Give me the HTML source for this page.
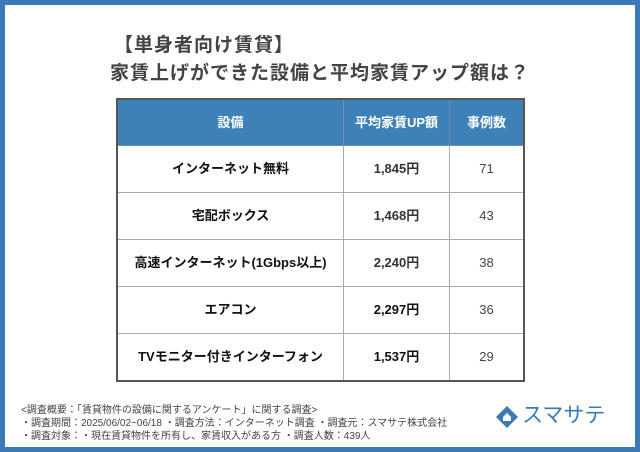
<!DOCTYPE html>
<html><head><meta charset="utf-8"><style>
body{margin:0;width:640px;height:452px;overflow:hidden;font-family:"Liberation Sans","Noto Sans CJK JP",sans-serif;}
.frame{position:absolute;left:0;top:0;width:630px;height:442px;border:5px solid #3a7ab5;background:#fff;}
.t{position:absolute;color:#444;font-weight:bold;font-size:19px;white-space:nowrap;letter-spacing:1px;line-height:22px}
table{position:absolute;left:116px;top:98px;width:409px;border-collapse:collapse;border:2px solid #555;}
td,th{border:1px solid #aaa;text-align:center;vertical-align:middle;height:46px;padding:0;font-size:13px;line-height:16px;font-weight:bold;color:#111}
td span,th span{display:inline-block;vertical-align:middle}
th{background:#3e80b8;color:#fff;border-color:#6a8fb0;height:45px}
td.n{color:#333}
td.c{font-weight:normal;color:#444}
.f{position:absolute;left:21px;font-size:10px;color:#444;white-space:nowrap}
</style></head><body>
<div class="frame"></div>
<div class="t" style="left:114px;top:35px">【単身者向け賃貸】</div>
<div class="t" style="left:110px;top:63px">家賃上げができた設備と平均家賃アップ額は？</div>
<table>
<tr><th style="width:225px">設備</th><th style="width:105px">平均家賃UP額</th><th>事例数</th></tr>
<tr><td>インターネット無料</td><td class="n">1,845円</td><td class="c">71</td></tr>
<tr><td>宅配ボックス</td><td class="n">1,468円</td><td class="c">43</td></tr>
<tr><td>高速インターネット(1Gbps以上)</td><td class="n">2,240円</td><td class="c">38</td></tr>
<tr><td>エアコン</td><td>2,297円</td><td class="c">36</td></tr>
<tr><td>TVモニター付きインターフォン</td><td>1,537円</td><td class="c">29</td></tr>
</table>
<div class="f" style="top:401px">&lt;調査概要：「賃貸物件の設備に関するアンケート」に関する調査&gt;</div>
<div class="f" style="top:414px">・調査期間：2025/06/02~06/18 ・調査方法：インターネット調査 ・調査元：スマサテ株式会社</div>
<div class="f" style="top:427px">・調査対象：・現在賃貸物件を所有し、家賃収入がある方 ・調査人数：439人</div>
<svg style="position:absolute;left:495px;top:405px" width="24" height="24" viewBox="0 0 24 24"><path d="M12 1 L23 12 L12 23 L1 12 Z" fill="#3a7ab5"/><path d="M12 8 L16 12 L16 16 L8 16 L8 12 Z" fill="#fff"/></svg>
<div style="position:absolute;left:522px;top:403px;font-size:21px;line-height:26px;color:#3a7ab5;white-space:nowrap">スマサテ</div>
</body></html>
